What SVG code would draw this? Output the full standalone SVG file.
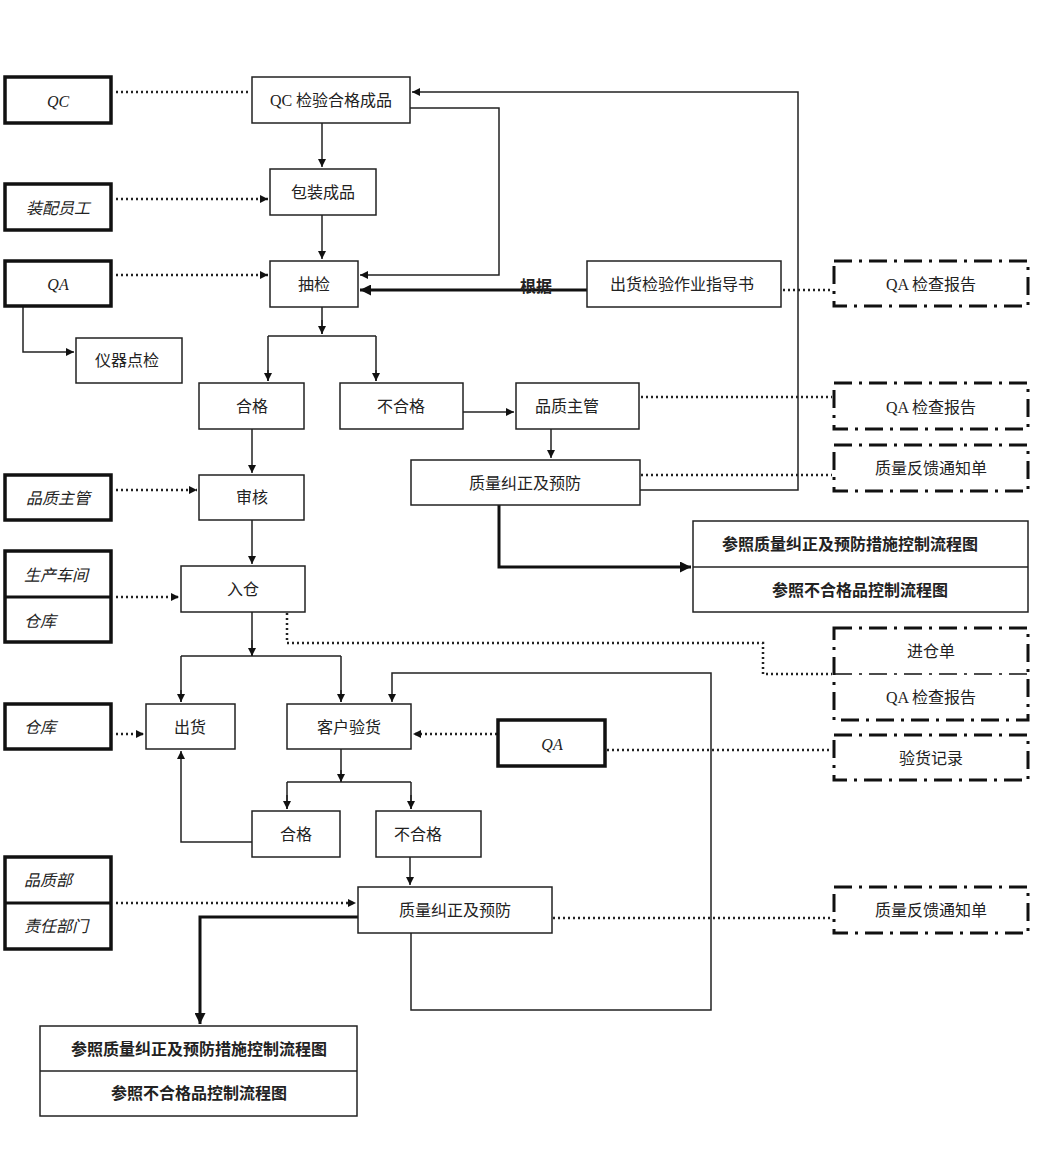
<svg xmlns="http://www.w3.org/2000/svg" width="1037" height="1176" viewBox="0 0 1037 1176">
<defs>
<marker id="a" viewBox="0 0 10 10" refX="10" refY="5" markerWidth="8" markerHeight="8" markerUnits="userSpaceOnUse" orient="auto"><path d="M0,0L10,5L0,10z" fill="#111"/></marker>
<marker id="b" viewBox="0 0 10 10" refX="10" refY="5" markerWidth="11" markerHeight="11" markerUnits="userSpaceOnUse" orient="auto"><path d="M0,0L10,5L0,10z" fill="#111"/></marker>
</defs>
<style>
text{font-family:"Liberation Serif","Noto Sans CJK SC",serif;font-size:16px;fill:#222;text-anchor:middle;dominant-baseline:central}
.i{font-style:italic}
.bd{font-weight:bold}
.n{fill:#fff;stroke:#222;stroke-width:1.5}
.t{fill:#fff;stroke:#111;stroke-width:3.5}
.d{fill:#fff;stroke:#111;stroke-width:3;stroke-dasharray:18 7 3 7}
.c{fill:none;stroke:#222;stroke-width:1.5}
.k{fill:none;stroke:#111;stroke-width:3}
.o{fill:none;stroke:#222;stroke-width:2.5;stroke-dasharray:2 3}
</style>
<g id="connectors">
<path class="o" d="M116,92H250"/>
<path class="c" d="M322,123V167" marker-end="url(#a)"/>
<path class="o" d="M116,199H268" marker-end="url(#a)"/>
<path class="c" d="M322,215V259" marker-end="url(#a)"/>
<path class="c" d="M410,108H499V275H360" marker-end="url(#a)"/>
<path class="c" d="M640,490H798V92H412" marker-end="url(#a)"/>
<path class="k" d="M587,290H360" marker-end="url(#b)"/>
<path class="o" d="M783,290H832"/>
<path class="o" d="M116,275H268" marker-end="url(#a)"/>
<path class="c" d="M23,306V352H74" marker-end="url(#a)"/>
<path class="c" d="M322,307V334M268,336H376M268,336V381M376,336V381" />
<path class="c" d="M268,370V381" marker-end="url(#a)"/>
<path class="c" d="M376,370V381" marker-end="url(#a)"/>
<path class="c" d="M322,320V334" marker-end="url(#a)"/>
<path class="c" d="M463,412H514" marker-end="url(#a)"/>
<path class="c" d="M551,429V458" marker-end="url(#a)"/>
<path class="o" d="M641,397H832"/>
<path class="o" d="M641,475H832"/>
<path class="k" d="M499,505V567H691" marker-end="url(#b)"/>
<path class="c" d="M252,429V473" marker-end="url(#a)"/>
<path class="o" d="M116,490H197" marker-end="url(#a)"/>
<path class="c" d="M252,520V564" marker-end="url(#a)"/>
<path class="o" d="M116,597H179" marker-end="url(#a)"/>
<path class="o" d="M287,613V643H763V674H832"/>
<path class="c" d="M252,612V656M181,656H341M181,656V702M341,656V702"/>
<path class="c" d="M181,690V702" marker-end="url(#a)"/>
<path class="c" d="M341,690V702" marker-end="url(#a)"/>
<path class="c" d="M252,640V656" marker-end="url(#a)"/>
<path class="o" d="M116,734H144" marker-end="url(#a)"/>
<path class="o" d="M497,734H413" marker-end="url(#a)"/>
<path class="o" d="M607,750H832"/>
<path class="c" d="M341,749V782M287,782H411M287,782V809M411,782V809"/>
<path class="c" d="M341,770V782" marker-end="url(#a)"/>
<path class="c" d="M287,795V809" marker-end="url(#a)"/>
<path class="c" d="M411,795V809" marker-end="url(#a)"/>
<path class="c" d="M252,842H181V751" marker-end="url(#a)"/>
<path class="c" d="M410,857V885" marker-end="url(#a)"/>
<path class="o" d="M116,903H356" marker-end="url(#a)"/>
<path class="o" d="M553,918H832"/>
<path class="c" d="M411,933V1010H711V673H392V702" marker-end="url(#a)"/>
<path class="k" d="M358,917H200V1024" marker-end="url(#b)"/>
</g>
<g id="qc"><rect class="t" x="5" y="77" width="106" height="46"/><text class="i" x="58" y="101">QC</text></g>
<g id="qcpass"><rect class="n" x="252" y="77" width="158" height="46"/><text x="331" y="100">QC 检验合格成品</text></g>
<g id="asm"><rect class="t" x="5" y="184" width="106" height="46"/><text class="i" x="58" y="208">装配员工</text></g>
<g id="pack"><rect class="n" x="270" y="169" width="106" height="46"/><text x="323" y="192">包装成品</text></g>
<g id="qa1"><rect class="t" x="5" y="261" width="106" height="45"/><text class="i" x="58" y="284">QA</text></g>
<g id="spot"><rect class="n" x="270" y="261" width="88" height="46"/><text x="314" y="284">抽检</text></g>
<g id="instr"><rect class="n" x="76" y="338" width="106" height="45"/><text x="127" y="360">仪器点检</text></g>
<g id="pass1"><rect class="n" x="199" y="383" width="105" height="46"/><text x="252" y="406">合格</text></g>
<g id="fail1"><rect class="n" x="340" y="383" width="123" height="46"/><text x="401" y="406">不合格</text></g>
<g id="qm"><rect class="n" x="516" y="383" width="123" height="46"/><text x="567" y="406">品质主管</text></g>
<g id="cap1"><rect class="n" x="411" y="460" width="229" height="45"/><text x="525" y="483">质量纠正及预防</text></g>
<g id="guide"><rect class="n" x="587" y="261" width="194" height="46"/><text x="682" y="284">出货检验作业指导书</text><text class="bd" x="536" y="286">根据</text></g>
<g id="rep1"><rect class="d" x="834" y="261" width="194" height="45"/><text x="931" y="284">QA 检查报告</text></g>
<g id="rep2"><rect class="d" x="834" y="383" width="194" height="46"/><text x="931" y="407">QA 检查报告</text></g>
<g id="fb1"><rect class="d" x="834" y="445" width="194" height="46"/><text x="931" y="468">质量反馈通知单</text></g>
<g id="ref1"><rect class="n" x="693" y="521" width="335" height="91"/><path class="c" d="M693,567H1028"/><text class="bd" x="850" y="544">参照质量纠正及预防措施控制流程图</text><text class="bd" x="860" y="590">参照不合格品控制流程图</text></g>
<g id="qm2"><rect class="t" x="5" y="475" width="106" height="45"/><text class="i" x="58" y="498">品质主管</text></g>
<g id="audit"><rect class="n" x="199" y="475" width="105" height="45"/><text x="252" y="497">审核</text></g>
<g id="ws"><rect class="t" x="5" y="551" width="106" height="91"/><path class="k" d="M5,597H111"/><text class="i" x="56" y="575">生产车间</text><text class="i" x="40" y="621">仓库</text></g>
<g id="inw"><rect class="n" x="181" y="566" width="124" height="46"/><text x="243" y="589">入仓</text></g>
<g id="ent"><rect class="d" x="834" y="628" width="194" height="92"/><path d="M834,674H1028" stroke="#111" stroke-width="1.5" stroke-dasharray="18 7 3 7"/><text x="931" y="651">进仓单</text><text x="931" y="697">QA 检查报告</text></g>
<g id="wh"><rect class="t" x="5" y="704" width="106" height="45"/><text class="i" x="40" y="727">仓库</text></g>
<g id="ship"><rect class="n" x="146" y="704" width="89" height="45"/><text x="190" y="727">出货</text></g>
<g id="cust"><rect class="n" x="287" y="704" width="124" height="45"/><text x="349" y="727">客户验货</text></g>
<g id="qa2"><rect class="t" x="498" y="720" width="107" height="46"/><text class="i" x="552" y="744">QA</text></g>
<g id="rec"><rect class="d" x="834" y="735" width="194" height="45"/><text x="931" y="758">验货记录</text></g>
<g id="pass2"><rect class="n" x="252" y="811" width="88" height="46"/><text x="296" y="834">合格</text></g>
<g id="fail2"><rect class="n" x="376" y="811" width="105" height="46"/><text x="418" y="834">不合格</text></g>
<g id="qd"><rect class="t" x="5" y="857" width="106" height="92"/><path class="k" d="M5,903H111"/><text class="i" x="48" y="880">品质部</text><text class="i" x="56" y="926">责任部门</text></g>
<g id="cap2"><rect class="n" x="358" y="887" width="194" height="46"/><text x="455" y="910">质量纠正及预防</text></g>
<g id="fb2"><rect class="d" x="834" y="887" width="194" height="46"/><text x="931" y="910">质量反馈通知单</text></g>
<g id="ref2"><rect class="n" x="40" y="1026" width="317" height="90"/><path class="c" d="M40,1071H357"/><text class="bd" x="199" y="1049">参照质量纠正及预防措施控制流程图</text><text class="bd" x="199" y="1093">参照不合格品控制流程图</text></g>
</svg>
